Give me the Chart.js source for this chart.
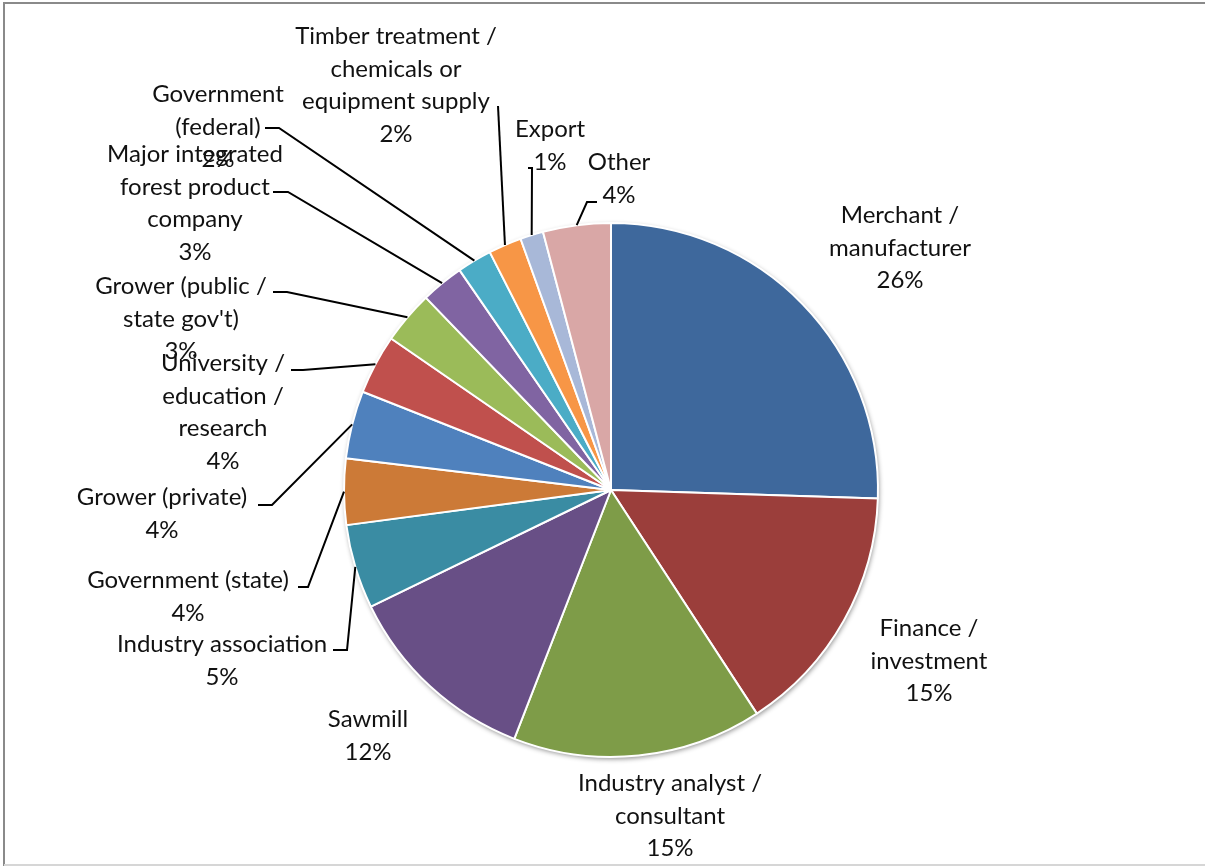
<!DOCTYPE html>
<html>
<head>
<meta charset="utf-8">
<script src="https://cdn.jsdelivr.net/npm/chart.js@4.4.1/dist/chart.umd.min.js"></script>
<style>
  html, body { margin: 0; padding: 0; background: #fff; }
  #wrap { position: relative; width: 1205px; height: 866px; }
</style>
</head>
<body>
<div id="wrap"><canvas id="myChart" width="1205" height="866"></canvas></div>
<script>
// categories (line-broken as in the picture)
var categories = [
  ['Merchant /', 'manufacturer'],
  ['Finance /', 'investment'],
  ['Industry analyst /', 'consultant'],
  ['Sawmill'],
  ['Industry association'],
  ['Government (state)'],
  ['Grower (private)'],
  ['University /', 'education /', 'research'],
  ['Grower (public /', "state gov't)"],
  ['Major integrated', 'forest product', 'company'],
  ['Government', '(federal)'],
  ['Timber treatment /', 'chemicals or', 'equipment supply'],
  ['Export'],
  ['Other']
];
// share of respondents
var shares = [25.5, 15.3, 15.1, 11.9, 5.1, 4.0, 4.1, 3.6, 3.2, 2.6, 2.1, 2.0, 1.4, 4.1];

var sliceColors = ['#3E689C', '#9B3E3B', '#7E9C48', '#684F86', '#3A8CA3', '#CC7A37',
  '#4F81BD', '#C0504D', '#9BBB59', '#8064A2', '#4BACC6', '#F79646', '#A8B8D8', '#D9A7A6'];

// where Excel put each data label: [centre x, first baseline y]
var labelPos = [
  [900, 223], [929, 636], [670, 791], [368, 727], [222, 652], [188, 588], [162, 505],
  [223, 371], [181, 294], [195, 162], [218, 102], [396, 44], [550, 137], [619, 170]
];
// leader lines: [label end x, y, elbow x, y] (null = no line)
var leaders = [
  null, null, null, null,
  [333, 650, 347, 650],
  [298, 587, 308, 587],
  [258, 505, 272, 505],
  [291, 370, 303, 370],
  [273, 292, 287, 292],
  [273, 192, 288, 192],
  [265, 128, 279, 128],
  [498, 106, 498, 106],
  [528, 168, 532, 168],
  [597, 202, 587, 202]
];

var lineH = 32.5;
var labelFont = '24px Lato';

var pieShadow = {
  id: 'pieShadow',
  beforeDatasetsDraw: function(chart) {
    var arc = chart.getDatasetMeta(0).data[0];
    if (!arc) return;
    var p = arc.getProps(['x', 'y', 'outerRadius'], true);
    var ctx = chart.ctx;
    ctx.save();
    ctx.beginPath();
    ctx.arc(p.x, p.y, p.outerRadius, 0, Math.PI * 2);
    ctx.fillStyle = '#fff';
    ctx.shadowColor = 'rgba(0,0,0,0.45)';
    ctx.shadowBlur = 5;
    ctx.shadowOffsetX = 1;
    ctx.shadowOffsetY = 2;
    ctx.fill();
    ctx.restore();
  }
};

var outsideLabels = {
  id: 'outsideLabels',
  afterDatasetsDraw: function(chart) {
    var ctx = chart.ctx;
    var meta = chart.getDatasetMeta(0);
    var data = chart.data.datasets[0].data;
    var total = data.reduce(function(a, b) { return a + b; }, 0);
    ctx.save();
    // leader lines
    ctx.strokeStyle = '#000';
    ctx.lineWidth = 2;
    meta.data.forEach(function(arc, i) {
      var l = leaders[i];
      if (!l) return;
      var p = arc.getProps(['x', 'y', 'startAngle', 'endAngle', 'outerRadius'], true);
      var mid = (p.startAngle + p.endAngle) / 2;
      var rx = p.x + Math.cos(mid) * p.outerRadius;
      var ry = p.y + Math.sin(mid) * p.outerRadius;
      ctx.beginPath();
      ctx.moveTo(rx, ry);
      ctx.lineTo(l[2], l[3]);
      ctx.lineTo(l[0], l[1]);
      ctx.stroke();
    });
    // label text
    ctx.fillStyle = '#111';
    ctx.font = labelFont;
    ctx.textAlign = 'center';
    ctx.textBaseline = 'alphabetic';
    chart.data.labels.forEach(function(lab, i) {
      var lines = lab.concat([Math.round(data[i] / total * 100) + '%']);
      var pos = labelPos[i];
      lines.forEach(function(t, k) {
        ctx.fillText(t, pos[0], pos[1] + k * lineH);
      });
    });
    ctx.restore();
  },
  afterDraw: function(chart) {
    var ctx = chart.ctx;
    ctx.save();
    ctx.lineWidth = 2;
    ctx.strokeStyle = '#8a8a8a';
    ctx.beginPath();
    ctx.moveTo(4, 866);
    ctx.lineTo(4, 3);
    ctx.lineTo(1205, 3);
    ctx.stroke();
    ctx.strokeStyle = '#d6d6d6';
    ctx.beginPath();
    ctx.moveTo(4, 865);
    ctx.lineTo(1205, 865);
    ctx.stroke();
    ctx.restore();
  }
};

new Chart(document.getElementById('myChart'), {
  type: 'pie',
  data: {
    labels: categories,
    datasets: [{
      data: shares,
      backgroundColor: sliceColors,
      borderColor: '#ffffff',
      borderWidth: 2,
      hoverOffset: 0
    }]
  },
  options: {
    responsive: false,
    animation: false,
    devicePixelRatio: 1,
    layout: { padding: { left: 343, right: 326, top: 222, bottom: 108 } },
    plugins: {
      legend: { display: false },
      tooltip: { enabled: false }
    }
  },
  plugins: [pieShadow, outsideLabels]
});
</script>
</body>
</html>
